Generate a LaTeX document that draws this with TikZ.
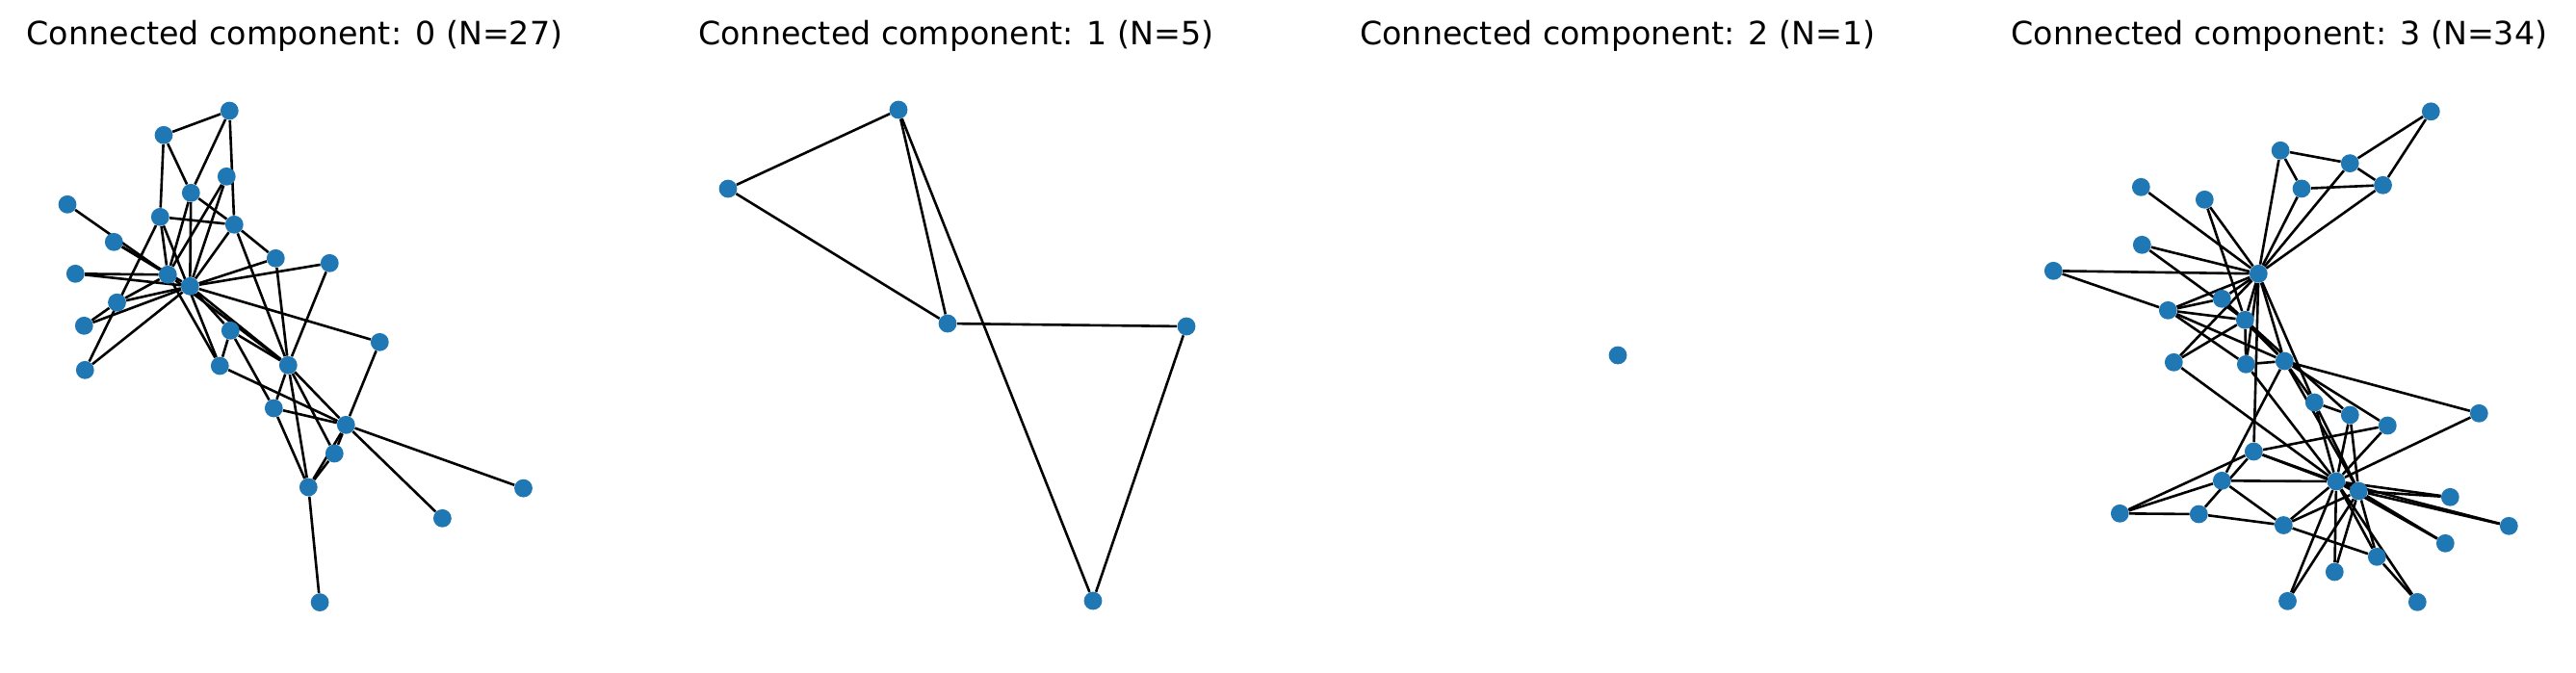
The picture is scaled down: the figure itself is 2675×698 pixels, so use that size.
\documentclass[tikz,border=0pt]{standalone}
\usepackage{fontspec}
\setmainfont{DejaVu Sans}
\usetikzlibrary{backgrounds}
\definecolor{nxblue}{HTML}{1F77B4}

\begin{document}
\begin{tikzpicture}[x=0.5pt, y=-0.5pt,
	vtx/.style={circle, fill=nxblue, inner sep=0pt, minimum size=9.4pt},
	link/.style={black, line width=1.3pt},
	ttl/.style={anchor=base, font=\fontsize{16.65}{20}\selectfont}]
	\useasboundingbox (0,0) rectangle (2675,698);

	\node[ttl] (t0) at (306,46) {Connected component: 0 (N=27)};
	\node[ttl] (t1) at (993,46) {Connected component: 1 (N=5)};
	\node[ttl] (t2) at (1680,46) {Connected component: 2 (N=1)};
	\node[ttl] (t3) at (2367,46) {Connected component: 3 (N=34)};

	% component 0
	\node[vtx] (a1) at (238.3,115) {};   \node[vtx] (a2) at (170,140.3) {};
	\node[vtx] (a3) at (235.3,183.3) {}; \node[vtx] (a4) at (198.3,200.3) {};
	\node[vtx] (a5) at (70,212.3) {};    \node[vtx] (a6) at (166.3,225.3) {};
	\node[vtx] (a7) at (243.3,233.3) {}; \node[vtx] (a8) at (118.3,251.3) {};
	\node[vtx] (a9) at (286.3,268.3) {}; \node[vtx] (a10) at (342.3,273.3) {};
	\node[vtx] (a11) at (78.3,284.3) {}; \node[vtx] (a12) at (174.3,285.3) {};
	\node[vtx] (a13) at (197.3,297.3) {}; \node[vtx] (a14) at (121.5,314.2) {};
	\node[vtx] (a15) at (87.3,338.3) {}; \node[vtx] (a16) at (239.3,343.3) {};
	\node[vtx] (a17) at (394.3,355.3) {}; \node[vtx] (a18) at (88.3,384.3) {};
	\node[vtx] (a19) at (228.3,380) {};  \node[vtx] (a20) at (299.3,379.3) {};
	\node[vtx] (a21) at (284.3,424) {};  \node[vtx] (a22) at (359.3,441.3) {};
	\node[vtx] (a23) at (347.3,471) {};  \node[vtx] (a24) at (320.3,506) {};
	\node[vtx] (a25) at (543.5,507.1) {}; \node[vtx] (a26) at (459.4,538.3) {};
	\node[vtx] (a27) at (332.1,625.6) {};

	% component 1
	\node[vtx] (b1) at (933,114) {};  \node[vtx] (b2) at (756,196) {};
	\node[vtx] (b3) at (984,336) {};  \node[vtx] (b4) at (1232,339) {};
	\node[vtx] (b5) at (1135,624) {};

	% component 2
	\node[vtx] (c1) at (1680,369) {};

	% component 3
	\node[vtx] (d16) at (2524.3,115.8) {}; \node[vtx] (d4) at (2368.1,156.3) {};
	\node[vtx] (d6) at (2440.2,169.6) {};  \node[vtx] (d10) at (2390,195.9) {};
	\node[vtx] (d5) at (2474.5,192.3) {};  \node[vtx] (d11) at (2223.3,194.3) {};
	\node[vtx] (d17) at (2289.3,207.3) {}; \node[vtx] (d21) at (2224.3,254.3) {};
	\node[vtx] (d12) at (2132.3,281.3) {}; \node[vtx] (d0) at (2345.3,284.3) {};
	\node[vtx] (d7) at (2307.3,310.3) {};  \node[vtx] (d3) at (2251.3,322.3) {};
	\node[vtx] (d1) at (2331.3,332.3) {};  \node[vtx] (d19) at (2257.3,376.3) {};
	\node[vtx] (d13) at (2332.3,378.3) {}; \node[vtx] (d2) at (2372.3,375) {};
	\node[vtx] (d8) at (2403.3,418) {};    \node[vtx] (d30) at (2440.3,431) {};
	\node[vtx] (d28) at (2479.3,442) {};   \node[vtx] (d9) at (2574.3,429.3) {};
	\node[vtx] (d31) at (2340.3,469) {};   \node[vtx] (d27) at (2307.3,499.3) {};
	\node[vtx] (d33) at (2426,500) {};     \node[vtx] (d32) at (2449.3,510) {};
	\node[vtx] (d14) at (2544.3,516.3) {}; \node[vtx] (d24) at (2201.3,533.3) {};
	\node[vtx] (d25) at (2283.3,534) {};   \node[vtx] (d23) at (2371.3,545.5) {};
	\node[vtx] (d15) at (2605.3,546.3) {}; \node[vtx] (d18) at (2539.3,564.3) {};
	\node[vtx] (d29) at (2468.3,578.3) {}; \node[vtx] (d20) at (2424.3,594) {};
	\node[vtx] (d22) at (2375.5,624.3) {}; \node[vtx] (d26) at (2510.3,625.3) {};

	\begin{pgfonlayer}{background}
	% edges of component 0
	\draw[link] (a1) edge (a2) edge (a4) edge (a7);
	\draw[link] (a2) edge (a4) edge (a6);
	\draw[link] (a3) edge (a12) edge (a13);
	\draw[link] (a4) edge (a7) edge (a12) edge (a13);
	\draw[link] (a6) edge (a7) edge (a12) edge (a18) edge (a19);
	\draw[link] (a5) edge (a12);
	\draw[link] (a8) edge (a12) edge (a13);
	\draw[link] (a11) edge (a12) edge (a13);
	\draw[link] (a14) edge (a12) edge (a13) edge (a15);
	\draw[link] (a13) edge (a15) edge (a18) edge (a7) edge (a9) edge (a10) edge (a17) edge (a16) edge (a20);
	\draw[link] (a7) edge (a9) edge (a20);
	\draw[link] (a9) edge (a20);
	\draw[link] (a10) edge (a20);
	\draw[link] (a12) edge (a19) edge (a20);
	\draw[link] (a16) edge (a19) edge (a20) edge (a21);
	\draw[link] (a19) edge (a22);
	\draw[link] (a20) edge (a21) edge (a22) edge (a23) edge (a24);
	\draw[link] (a21) edge (a22) edge (a24);
	\draw[link] (a22) edge (a17) edge (a23) edge (a24) edge (a25) edge (a26);
	\draw[link] (a23) edge (a24);
	\draw[link] (a24) edge (a27);

	% edges of component 1
	\draw[link] (b1) edge (b2) edge (b3) edge (b5);
	\draw[link] (b3) edge (b2) edge (b4);
	\draw[link] (b4) edge (b5);

	% edges of component 3
	\draw[link] (d0) edge (d1) edge (d2) edge (d3) edge (d4) edge (d5) edge (d6) edge (d7) edge (d8)
		edge (d10) edge (d11) edge (d12) edge (d13) edge (d17) edge (d19) edge (d21) edge (d31);
	\draw[link] (d1) edge (d2) edge (d3) edge (d7) edge (d13) edge (d17) edge (d19) edge (d21) edge (d30);
	\draw[link] (d2) edge (d3) edge (d7) edge (d8) edge (d9) edge (d13) edge (d27) edge (d28) edge (d32);
	\draw[link] (d3) edge (d7) edge (d12) edge (d13);
	\draw[link] (d4) edge (d6) edge (d10);
	\draw[link] (d5) edge (d6) edge (d10) edge (d16);
	\draw[link] (d6) edge (d16);
	\draw[link] (d8) edge (d30) edge (d32) edge (d33);
	\draw[link] (d33) edge (d9) edge (d13) edge (d14) edge (d15) edge (d18) edge (d19) edge (d20) edge (d22)
		edge (d23) edge (d26) edge (d27) edge (d28) edge (d29) edge (d30) edge (d31) edge (d32);
	\draw[link] (d32) edge (d14) edge (d15) edge (d18) edge (d20) edge (d22) edge (d23) edge (d29) edge (d30) edge (d31);
	\draw[link] (d23) edge (d25) edge (d27) edge (d29);
	\draw[link] (d24) edge (d25) edge (d27) edge (d31);
	\draw[link] (d25) edge (d31);
	\draw[link] (d26) edge (d29);
	\draw[link] (d28) edge (d31);
	\end{pgfonlayer}
\end{tikzpicture}
\end{document}
